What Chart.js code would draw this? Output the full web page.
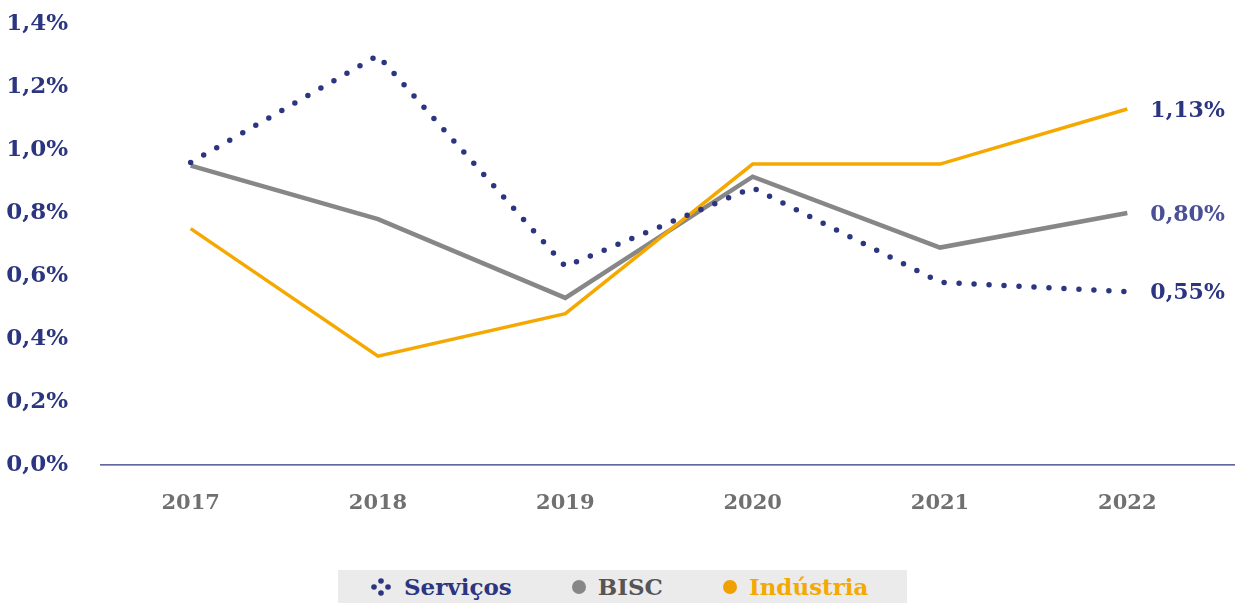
<!DOCTYPE html>
<html>
<head>
<meta charset="utf-8">
<script src="https://cdn.jsdelivr.net/npm/chart.js@4/dist/chart.umd.min.js"></script>
<style>
  body { margin: 0; background: #fff; }
  #wrap { position: relative; width: 1243px; height: 603px; }
  #legend {
    position: absolute; left: 338px; top: 570px; width: 569px; height: 33px;
    background: #ebebeb; font-family: "DejaVu Serif", serif; font-weight: bold;
    font-size: 23px; display: flex; align-items: center; justify-content: flex-start;
    gap: 60px; padding-left: 32px; box-sizing: border-box;
  }
  #legend span { display: flex; align-items: center; gap: 12px; }
  .dot { width: 14px; height: 14px; border-radius: 50%; display: inline-block; }
</style>
</head>
<body>
<div id="wrap">
  <canvas id="myChart" width="1243" height="534"></canvas>
  <div id="legend">
    <span style="color:#2b3580">
      <svg width="22" height="20"><circle cx="4" cy="10" r="2.8" fill="#2b3580"/><circle cx="11" cy="4" r="2.8" fill="#2b3580"/><circle cx="18" cy="10" r="2.8" fill="#2b3580"/><circle cx="11" cy="16" r="2.8" fill="#2b3580"/></svg>Serviços</span>
    <span style="color:#555"><i class="dot" style="background:#878787"></i>BISC</span>
    <span style="color:#f5a800"><i class="dot" style="background:#f0a000"></i>Indústria</span>
  </div>
</div>
<script>
const years = ["2017", "2018", "2019", "2020", "2021", "2022"];
const servicos = [0.96, 1.30, 0.63, 0.88, 0.58, 0.55];
const bisc = [0.95, 0.78, 0.53, 0.915, 0.69, 0.80];
const industria = [0.75, 0.345, 0.48, 0.955, 0.955, 1.13];
const endLabels = ["0,55%", "0,80%", "1,13%"];

const navy = "#2b3580";

// labels for the last points, right of the plot
const endLabelPlugin = {
  id: "endLabels",
  afterDatasetsDraw(chart) {
    const ctx = chart.ctx;
    ctx.save();
    ctx.font = "bold 22px 'DejaVu Serif', serif";
    ctx.textBaseline = "middle";
    const colors = [navy, "#4b4f96", navy];
    chart.data.datasets.forEach((ds, i) => {
      const meta = chart.getDatasetMeta(i);
      const pt = meta.data[meta.data.length - 1];
      ctx.fillStyle = colors[i];
      ctx.fillText(endLabels[i], pt.x + 23, pt.y + 2);
    });
    // axis line
    const y0 = chart.scales.y.getPixelForValue(0);
    ctx.strokeStyle = navy;
    ctx.lineWidth = 1.2;
    ctx.beginPath();
    ctx.moveTo(100, y0);
    ctx.lineTo(1235, y0);
    ctx.stroke();
    ctx.restore();
  }
};

new Chart("myChart", {
  type: "line",
  data: {
    labels: years,
    datasets: [
      {
        label: "Serviços",
        data: servicos,
        borderColor: navy,
        borderWidth: 5.5,
        borderDash: [0, 15],
        borderCapStyle: "round",
        pointRadius: 0,
        tension: 0,
        order: 0
      },
      {
        label: "BISC",
        data: bisc,
        borderColor: "#878787",
        borderWidth: 4.5,
        pointRadius: 0,
        tension: 0,
        order: 2
      },
      {
        label: "Indústria",
        data: industria,
        borderColor: "#f5a800",
        borderWidth: 3.5,
        pointRadius: 0,
        tension: 0,
        order: 1
      }
    ]
  },
  options: {
    responsive: false,
    animation: false,
    layout: { padding: { left: 0, right: 22, top: 24, bottom: 0 } },
    plugins: { legend: { display: false }, tooltip: { enabled: false } },
    scales: {
      x: {
        offset: true,
        grid: { display: false },
        border: { display: false },
        ticks: {
          color: "#707070",
          font: { family: "'DejaVu Serif', serif", size: 21, weight: "bold" },
          padding: 18
        }
      },
      y: {
        min: 0,
        max: 1.4,
        afterFit(scale) {
          scale.width = 97;
          scale.paddingTop = 0;
          scale.paddingBottom = 0;
        },
        grid: { display: false },
        border: { display: false },
        ticks: {
          stepSize: 0.2,
          color: navy,
          padding: 21,
          font: { family: "'DejaVu Serif', serif", size: 23, weight: "bold" },
          callback: v => v.toFixed(1).replace(".", ",") + "%"
        }
      }
    }
  },
  plugins: [endLabelPlugin]
});
</script>
</body>
</html>
